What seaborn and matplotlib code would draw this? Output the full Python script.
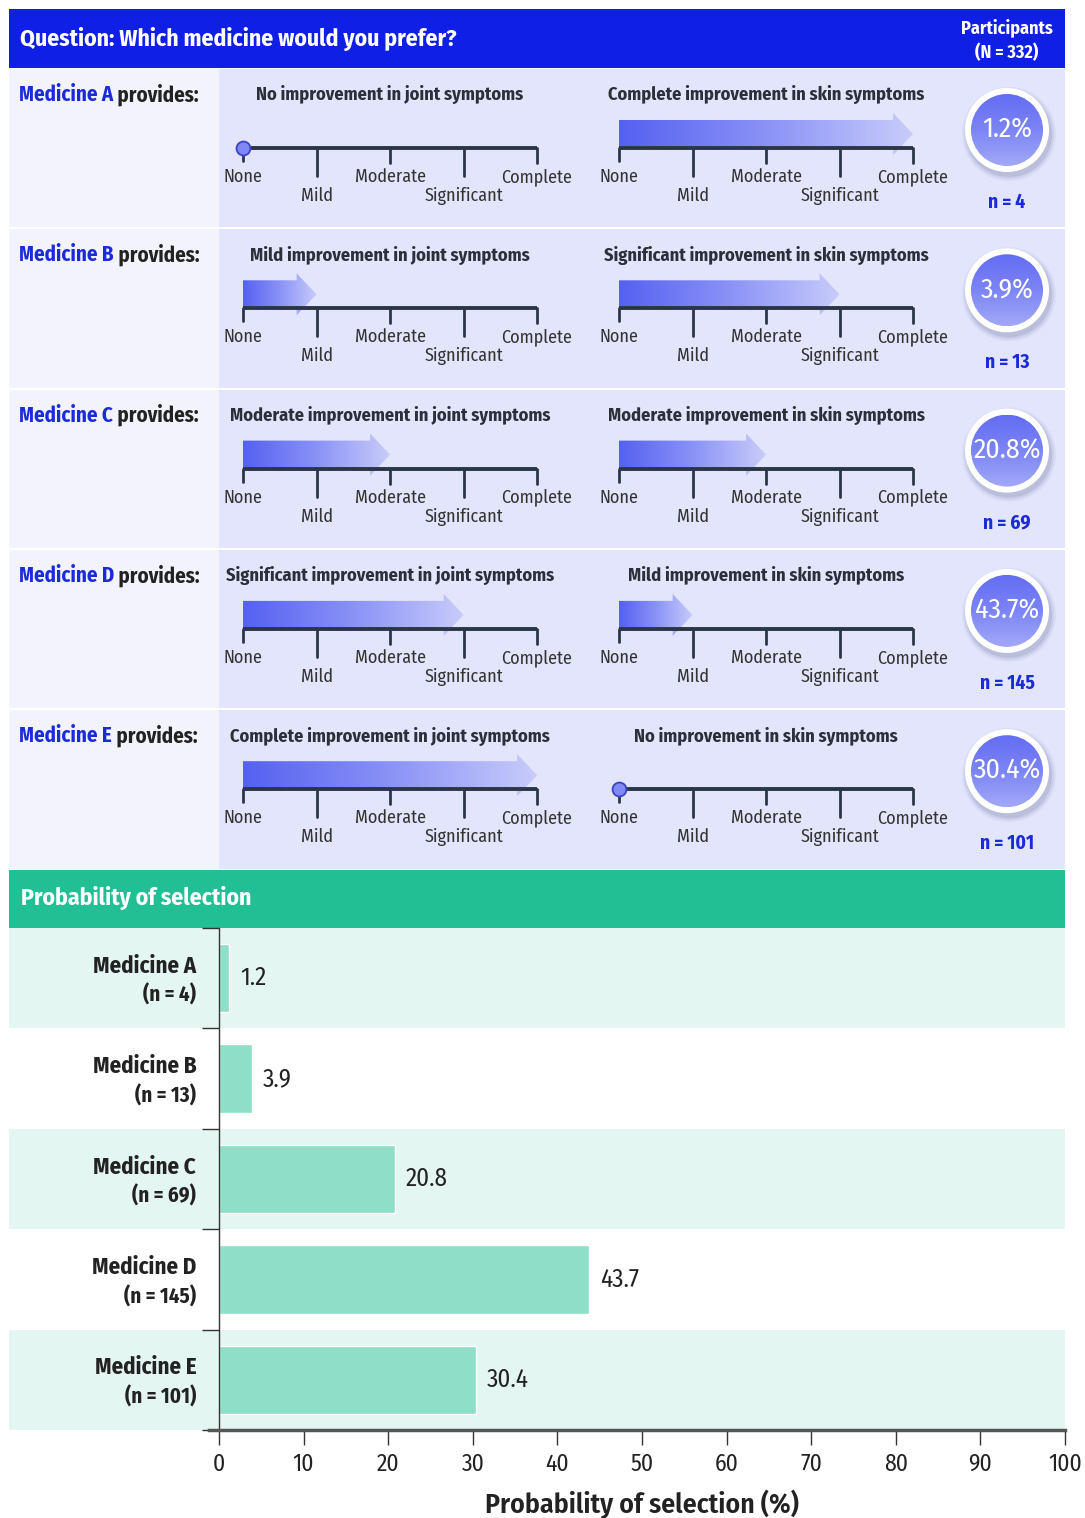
import numpy as np
import pandas as pd
import matplotlib.pyplot as plt
import matplotlib.patches as mpatches
from matplotlib.colors import LinearSegmentedColormap
import seaborn as sns

# ---- data ----
letters = ["A", "B", "C", "D", "E"]
medicines = ["Medicine A", "Medicine B", "Medicine C", "Medicine D", "Medicine E"]
levels = ["None", "Mild", "Moderate", "Significant", "Complete"]
level_words = ["No", "Mild", "Moderate", "Significant", "Complete"]
joint_level = [0, 1, 2, 3, 4]
skin_level = [4, 3, 2, 1, 0]
pct = [1.2, 3.9, 20.8, 43.7, 30.4]
n_part = [4, 13, 69, 145, 101]
n_total = 332

sns.set_theme(style="white")
plt.rcParams['font.family'] = ['Fira Sans Condensed', 'DejaVu Sans']

W, H = 1085, 1518
BLUE = '#0f1fe6'
MEDBLUE = '#1c2bd8'
DARK = '#2a3646'
GREEN = '#22bf95'
BAR = '#8fdfc8'
BAND = '#e4f6f1'

fig = plt.figure(figsize=(W / 100, H / 100), dpi=100)


def px(x0, y0, x1, y1):
    return [x0 / W, 1 - y1 / H, (x1 - x0) / W, (y1 - y0) / H]


bg = fig.add_axes([0, 0, 1, 1], zorder=0)
bg.axis('off')

arrow_cmap = LinearSegmentedColormap.from_list('arr', ['#5561f1', '#8a92f6', '#c8ccfa'])
badge_cmap = LinearSegmentedColormap.from_list('bad', ['#636df2', '#7c85f5', '#a2a9f8'])

# header
bg.add_patch(mpatches.Rectangle((9, 9), 1056, 59, color=BLUE, lw=0))
bg.text(20, 39, "Question: Which medicine would you prefer?", color='white',
        fontsize=17, fontweight='bold', va='center')
bg.text(1007, 40, f"Participants\n(N = {n_total})", color='white', fontsize=13,
        fontweight='bold', va='center', ha='center', linespacing=1.45)

row_h = 160.3
for r in range(len(letters)):
    top = 68 + r * row_h
    bg.add_patch(mpatches.Rectangle((9, top + 1), 210, row_h - 2, color='#f2f3fd', lw=0))
    bg.add_patch(mpatches.Rectangle((219, top + 1), 846, row_h - 2, color='#e2e5fb', lw=0))
    t = bg.text(19, top + 27, medicines[r], color=MEDBLUE, fontsize=15,
                fontweight='bold', va='center')
    bg.annotate(" provides:", xy=(1, 0), xycoords=t, va='bottom', ha='left',
                color='#222222', fontsize=15, fontweight='bold')

    # badge
    cx, cy = 1007, top + 62
    for rad, a in [(47, 0.07), (45, 0.12), (43, 0.18)]:
        bg.add_patch(mpatches.Circle((cx + 2, cy + 4), rad, color='#6d73a0', alpha=a,
                                     lw=0, zorder=1))
    bg.add_patch(mpatches.Circle((cx, cy), 42, color='white', lw=0, zorder=1))
    clip = mpatches.Circle((cx, cy), 36, transform=bg.transData, facecolor='none', lw=0)
    bg.add_patch(clip)
    im = bg.imshow(np.linspace(0, 1, 128)[:, None], cmap=badge_cmap, aspect='auto',
                   extent=(cx - 36, cx + 36, cy + 36, cy - 36), origin='upper', zorder=2)
    im.set_clip_path(clip)
    bg.text(cx, cy, f"{pct[r]}%", color='white', fontsize=20, ha='center', va='center',
            zorder=3)
    bg.text(cx, top + 134, f"n = {n_part[r]}", color=MEDBLUE, fontsize=14,
            fontweight='bold', ha='center', va='center')

    # the two improvement scales
    line_y = top + 80
    for x0, lev, kind in [(243, joint_level[r], 'joint'), (619, skin_level[r], 'skin')]:
        ax = fig.add_axes(px(x0, line_y - 62, x0 + 294, line_y + 60), zorder=2)
        ax.set_facecolor('none')
        ax.axis('off')
        if lev > 0:
            hl = 0.27
            verts = [(0, -28), (lev - hl, -28), (lev - hl, -35), (lev, -14),
                     (lev - hl, 7), (lev - hl, 0), (0, 0)]
            poly = mpatches.Polygon(verts, closed=True, facecolor='none', lw=0)
            ax.add_patch(poly)
            aim = ax.imshow(np.linspace(0, 1, 256)[None, :], cmap=arrow_cmap, aspect='auto',
                            extent=(0, lev, 7, -35), origin='upper', zorder=1)
            aim.set_clip_path(poly)
        ax.plot([0, 4], [0, 0], color=DARK, lw=2.8, solid_capstyle='butt', zorder=3,
                clip_on=False)
        tick_len = [13, 28, 15, 28, 15]
        for k in range(5):
            ax.plot([k, k], [0, tick_len[k]], color=DARK, lw=2, zorder=3, clip_on=False)
            ax.text(k, 29 if k % 2 == 0 else 48, levels[k], ha='center', va='center',
                    fontsize=13, color='#333333')
        if lev == 0:
            ax.plot(0, 0, 'o', ms=10, mfc='#7f88f4', mec='#3a43c8', mew=1.3, zorder=4,
                    clip_on=False)
        ax.text(2, -53, f"{level_words[lev]} improvement in {kind} symptoms",
                ha='center', va='center', fontsize=13.2, fontweight='bold', color='#2b2f3a')
        ax.set_xlim(0, 4)
        ax.set_ylim(60, -62)

# probability header
bg.add_patch(mpatches.Rectangle((9, 870), 1056, 58, color=GREEN, lw=0))
bg.text(21, 898, "Probability of selection", color='white', fontsize=17,
        fontweight='bold', va='center')

band_h = 100.4
for i in range(len(medicines)):
    if i % 2 == 0:
        bg.add_patch(mpatches.Rectangle((9, 928 + i * band_h), 1056, band_h, color=BAND, lw=0))

bg.set_xlim(0, W)
bg.set_ylim(H, 0)

# bar chart
ax2 = fig.add_axes(px(219, 928, 1065, 1430), zorder=3)
ax2.set_facecolor('none')
df = pd.DataFrame({'medicine': medicines, 'pct': pct})
sns.barplot(data=df, x='pct', y='medicine', color=BAR, saturation=1, width=0.68, ax=ax2)
for i, v in enumerate(pct):
    ax2.text(v + 1.3, i, f"{v}", va='center', ha='left', fontsize=18, color='#222222')
    ax2.text(-2.7, i - 0.12, medicines[i], ha='right', va='center', fontsize=16.5,
             fontweight='bold', color='#222222')
    ax2.text(-2.7, i + 0.17, f"(n = {n_part[i]})", ha='right', va='center', fontsize=15,
             fontweight='bold', color='#222222')
ax2.set_xlim(0, 100)
ax2.set_ylim(4.5, -0.5)
ax2.set_yticks(np.arange(-0.5, 5, 1))
ax2.set_yticklabels([])
ax2.set_ylabel('')
ax2.set_xticks(np.arange(0, 101, 10))
ax2.tick_params(axis='y', length=12, width=1, color='#333333', left=True)
ax2.tick_params(axis='x', length=11, width=1, color='#333333', labelsize=17,
                labelcolor='#222222', bottom=True, pad=5)
for s in ['top', 'right']:
    ax2.spines[s].set_visible(False)
ax2.spines['left'].set_color('#333333')
ax2.spines['left'].set_linewidth(1)
ax2.spines['bottom'].set_color('#555555')
ax2.spines['bottom'].set_linewidth(2.5)
ax2.spines['bottom'].set_bounds(-1.2, 100)
ax2.set_xlabel("Probability of selection (%)", fontsize=20, fontweight='semibold',
               color='#222222', labelpad=10)

fig.savefig("out.png", dpi=100)
